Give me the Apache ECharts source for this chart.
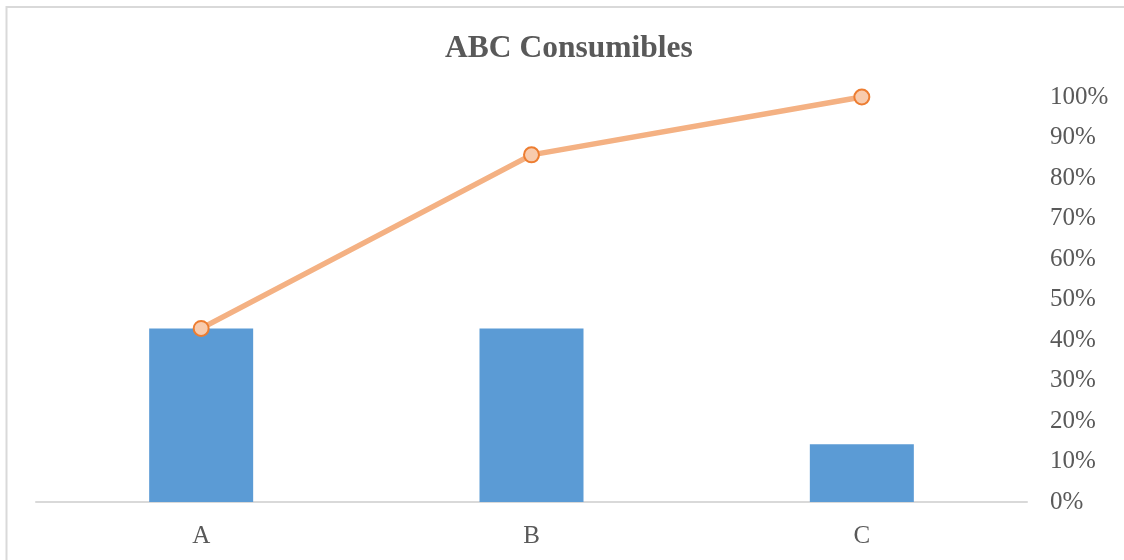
<!DOCTYPE html>
<html>
<head>
<meta charset="utf-8">
<script src="https://cdn.jsdelivr.net/npm/echarts@6/dist/echarts.min.js"></script>
<style>
  html, body { margin: 0; padding: 0; background: #ffffff; }
  #chart { width: 1124px; height: 560px; }
</style>
</head>
<body>
<div id="chart"></div>
<script>
// ABC classification: share of items per class and cumulative share
const categories = ['A', 'B', 'C'];
const classShare = [0.4286, 0.4286, 0.1429];
const cumulativeShare = [0.4286, 0.8571, 1.0];
const percentTicks = [0, 0.1, 0.2, 0.3, 0.4, 0.5, 0.6, 0.7, 0.8, 0.9, 1.0];

const serif = '"Liberation Serif", "Times New Roman", serif';
const textGray = '#595959';
const lineGray = '#D9D9D9';

const chart = echarts.init(document.getElementById('chart'), null, { renderer: 'canvas' });

chart.setOption({
  backgroundColor: '#ffffff',
  animation: false,
  graphic: [{
    type: 'rect',
    shape: { x: 6.5, y: 7, width: 1140, height: 580 },
    style: { fill: null, stroke: lineGray, lineWidth: 2 },
    silent: true,
    z: -1
  }],
  title: {
    text: 'ABC Consumibles',
    left: 440,
    top: 28,
    textStyle: {
      fontFamily: serif,
      fontWeight: 'bold',
      fontSize: 31.5,
      color: textGray
    }
  },
  grid: { left: 36, right: 97, top: 97, bottom: 58 },
  xAxis: {
    type: 'category',
    data: categories,
    boundaryGap: true,
    axisLine: { show: true, lineStyle: { color: lineGray, width: 2 } },
    axisTick: { show: false },
    axisLabel: {
      margin: 22,
      fontFamily: serif,
      fontSize: 25,
      color: textGray
    }
  },
  yAxis: {
    type: 'value',
    position: 'right',
    min: percentTicks[0],
    max: percentTicks[percentTicks.length - 1],
    interval: 0.1,
    splitLine: { show: false },
    axisLine: { show: false },
    axisTick: { show: false },
    axisLabel: {
      margin: 23,
      fontFamily: serif,
      fontSize: 25,
      color: textGray,
      formatter: v => Math.round(v * 100) + '%'
    }
  },
  series: [
    {
      name: 'Share',
      type: 'bar',
      data: classShare,
      barWidth: 104,
      itemStyle: { color: '#5B9BD5' }
    },
    {
      name: 'Cumulative',
      type: 'line',
      data: cumulativeShare,
      symbol: 'circle',
      symbolSize: 15,
      lineStyle: { color: '#F4B183', width: 5.5 },
      itemStyle: { color: '#F8CBAD', borderColor: '#ED7D31', borderWidth: 2 },
      z: 3
    }
  ]
});
</script>
</body>
</html>
